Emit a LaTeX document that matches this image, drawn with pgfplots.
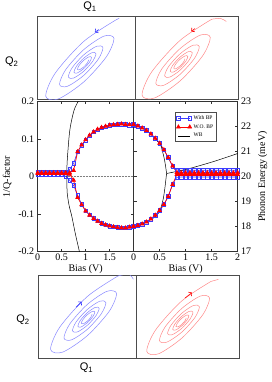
\documentclass[border=0pt]{standalone}
\usepackage{pgfplots}
\usepackage{pgfplotstable}
\pgfplotsset{compat=1.18}
\usepackage{fontspec}
\setmainfont{Liberation Serif}
\newfontfamily\qfont{Liberation Sans}
\usetikzlibrary{arrows.meta}
\definecolor{lblue}{RGB}{135,135,255}
\definecolor{lred}{RGB}{255,135,135}
\definecolor{dblue}{RGB}{50,50,255}
\definecolor{mblue}{RGB}{60,60,255}

\pgfplotstableread{
x y
31.82 43.83
0 22.54
-28.41 -9.04
-37.98 -32.21
-25.37 -34.96
0 -17.97
22.66 7.21
30.29 25.69
20.23 27.88
0 14.34
-18.07 -5.75
-24.15 -20.48
-16.14 -22.24
0 -11.43
14.41 4.59
19.26 16.33
12.87 17.73
0 9.12
-11.50 -3.66
-15.36 -13.03
-10.27 -14.14
0 -7.27
9.16 2.92
12.25 10.39
8.19 11.28
0 5.80
-7.31 -2.33
-9.77 -8.28
-6.53 -8.99
0 -4.62
5.83 1.85
7.79 6.61
5.20 7.17
0 3.69
-4.64 -1.48
-6.21 -5.27
-4.15 -5.72
0 -2.94
3.70 1.18
4.95 4.20
}\spiral

\pgfplotstableread{
x bu bl ru rl
0     0.011 0.005 0.010 0.008
0.083 0.011 0.005 0.010 0.008
0.167 0.011 0.005 0.010 0.008
0.25  0.011 0.005 0.010 0.008
0.333 0.011 0.005 0.010 0.008
0.417 0.011 0.005 0.010 0.008
0.5   0.011 0.005 0.010 0.008
0.583 0.012 0.001 0.010 0.008
0.667 0.019 -0.010 0.010 0.006
0.75  0.035 -0.024 0.016 -0.010
0.833 0.066 -0.050 0.066 -0.056
0.917 0.083 -0.074 0.084 -0.075
1.0   0.097 -0.091 0.098 -0.092
1.083 0.109 -0.102 0.110 -0.103
1.167 0.119 -0.111 0.119 -0.112
1.25  0.125 -0.118 0.126 -0.119
1.333 0.130 -0.124 0.131 -0.125
1.417 0.133 -0.129 0.134 -0.129
1.5   0.136 -0.132 0.137 -0.132
1.583 0.138 -0.134 0.138 -0.134
1.667 0.139 -0.136 0.139 -0.136
1.75  0.139 -0.137 0.140 -0.137
1.833 0.139 -0.137 0.139 -0.137
1.917 0.137 -0.135 0.138 -0.135
2.0   0.136 -0.131 0.136 -0.131
}\lefttab

\pgfplotstableread{
x bu bl ru rl
0     22.08 18.00 22.08 18.00
0.083 22.02 18.04 22.02 18.04
0.167 21.94 18.10 21.94 18.10
0.25  21.84 18.18 21.84 18.18
0.333 21.70 18.30 21.70 18.30
0.417 21.53 18.45 21.53 18.45
0.5   21.33 18.64 21.33 18.64
0.583 21.07 18.88 21.07 18.88
0.667 20.76 19.20 20.76 19.20
0.75  20.40 19.70 20.42 19.68
0.833 20.27 19.97 20.16 20.08
0.917 20.25 19.98 20.15 20.08
1.0   20.25 19.98 20.15 20.08
1.083 20.25 19.98 20.15 20.08
1.167 20.25 19.98 20.15 20.08
1.25  20.25 19.98 20.15 20.08
1.333 20.25 19.98 20.15 20.08
1.417 20.25 19.98 20.15 20.08
1.5   20.25 19.98 20.15 20.08
1.583 20.25 19.98 20.15 20.08
1.667 20.25 19.98 20.15 20.08
1.75  20.25 19.98 20.15 20.08
1.833 20.25 19.98 20.15 20.08
1.917 20.25 19.98 20.15 20.08
2.0   20.25 19.98 20.15 20.08
}\righttab

\pgfplotsset{
  phase/.style={scale only axis, anchor=north west,
    axis line style={black!70, line width=0.8pt},
    xtick=\empty, ytick=\empty},
  bsp/.style={lblue, line width=0.5pt, smooth, no marks},
  rsp/.style={lred, line width=0.5pt, smooth, no marks},
  main/.style={scale only axis, anchor=north west,
    axis line style={black!80, line width=0.6pt},
    tick align=inside, major tick length=3pt,
    tick style={black!80, line width=0.5pt},
    tick label style={font=\fontsize{10}{12}\selectfont},
    label style={font=\fontsize{10}{12}\selectfont},
    xlabel style={yshift=3pt},
    xticklabel style={yshift=1.5pt}},
  wbp/.style={mblue, line width=0.6pt, mark=square, mark size=1.8pt, mark options={solid, line width=0.5pt}},
  wop/.style={red, line width=0.7pt, mark=triangle*, mark size=2.1pt, mark options={solid}},
}

\begin{document}
\begin{tikzpicture}
\useasboundingbox (0pt,0pt) rectangle (272pt,-382pt);

% ---------- top-left phase portrait
\begin{axis}[phase, at={(37pt,-16pt)}, width=98pt, height=83pt,
  xmin=-46.7, xmax=51.3, ymin=-35, ymax=48,
  xlabel={\qfont Q\textsubscript{1}},
  every axis x label/.style={at={(rel axis cs:0.54,1)}, anchor=south, yshift=0.5pt, font=\fontsize{11}{12}\selectfont},
  ylabel={\qfont Q\textsubscript{2}},
  every axis y label/.style={at={(rel axis cs:0,0.45)}, anchor=east, xshift=-15pt, font=\fontsize{11}{12}\selectfont}]
\addplot[bsp] coordinates {(35.5,45.8) (31.82,43.83)};
\addplot[bsp] table[x=x,y=y] {\spiral};
\addplot[dblue, line width=0.6pt, -{Straight Barb[length=2.2pt,width=5pt]}] coordinates {(14.9,34.4) (11.2,31.7)};
\end{axis}

% ---------- top-right phase portrait
\begin{axis}[phase, at={(135pt,-16pt)}, width=103pt, height=83pt,
  xmin=-45, xmax=58, ymin=-36, ymax=47]
\addplot[rsp] coordinates {(46.3,41.5) (40.8,44.5) (31.82,43.83)};
\addplot[rsp] table[x=x,y=y] {\spiral};
\addplot[red, line width=0.6pt, -{Straight Barb[length=2.2pt,width=5pt]}] coordinates {(14.9,34.4) (11.2,31.7)};
\end{axis}

% ---------- main left: 1/Q
\begin{axis}[main, at={(37.7pt,-101.5pt)}, width=95.8pt, height=150pt,
  xmin=0, xmax=2, ymin=-0.2, ymax=0.2,
  xtick={0,0.5,1,1.5}, xticklabels={0,0.5,1,1.5},
  ytick={-0.2,-0.1,0,0.1,0.2}, yticklabels={-0.2,-0.1,0,0.1,0.2},
  xlabel={Bias (V)}, ylabel={1/Q-factor}]
\addplot[gray, densely dotted, line width=0.5pt] coordinates {(0,0) (2,0)};
\addplot[wbp] table[x=x,y=bu] {\lefttab};
\addplot[wbp] table[x=x,y=bl] {\lefttab};
\addplot[wop] table[x=x,y=ru] {\lefttab};
\addplot[wop] table[x=x,y=rl] {\lefttab};
\addplot[black, line width=0.5pt, smooth] coordinates {(0.90,0.22) (0.86,0.204) (0.76,0.177) (0.67,0.123) (0.617,0.043) (0.607,0) (0.617,-0.045) (0.66,-0.08) (0.71,-0.105) (0.79,-0.155) (0.88,-0.205) (0.90,-0.215)};
\addplot[black, line width=0.9pt] coordinates {(0,0.009) (0.6,0.009)};
\end{axis}

% ---------- main right: phonon energy
\begin{axis}[main, at={(133.5pt,-101.5pt)}, width=104.2pt, height=150pt,
  xmin=0, xmax=2, ymin=17, ymax=23,
  xtick={0,0.5,1,1.5,2}, xticklabels={0,0.5,1,1.5,2},
  ytick={17,18,19,20,21,22,23}, yticklabels={17,18,19,20,21,22,23},
  yticklabel pos=right,
  xlabel={Bias (V)}, ylabel={Phonon Energy (meV)},
  legend style={at={(0.40,0.93)}, anchor=north west, draw=black!70, line width=0.4pt,
    font=\fontsize{5.5}{6}\selectfont, inner sep=1.2pt, row sep=-0.3pt,
    cells={anchor=west}},
  legend image code/.code={\draw[mark repeat=2, mark phase=1] plot coordinates {(0cm,0cm) (0.2cm,0cm) (0.4cm,0cm)};}]
\addplot[wbp] table[x=x,y=bu] {\righttab};
\addlegendentry{With BP}
\addplot[wop] table[x=x,y=ru] {\righttab};
\addlegendentry{W.O. BP}
\addplot[black, line width=0.5pt, smooth] coordinates {(0,22.08) (0.25,21.84) (0.5,21.33) (0.55,21.05) (0.59,20.72) (0.62,20.35) (0.635,20.12)};
\addlegendentry{WB}
\addplot[wbp, forget plot] table[x=x,y=bl] {\righttab};
\addplot[wop, forget plot] table[x=x,y=rl] {\righttab};
\addplot[black, line width=0.5pt, smooth, forget plot] coordinates {(0.635,20.12) (0.62,19.85) (0.6,19.5) (0.57,19.1) (0.52,18.72) (0.45,18.45) (0.25,18.18) (0,18.0)};
\addplot[black, line width=0.5pt, smooth, forget plot] coordinates {(0.635,20.12) (1.0,20.28) (1.28,20.44) (1.6,20.64) (2.0,20.92)};
\end{axis}

% ---------- bottom-left phase portrait
\begin{axis}[phase, at={(38.3pt,-275pt)}, width=98.4pt, height=83.3pt,
  xmin=-50.7, xmax=51.1, ymin=-41.4, ymax=44.8,
  xlabel={\qfont Q\textsubscript{1}},
  every axis x label/.style={at={(rel axis cs:0.49,0)}, anchor=north, yshift=-1pt, font=\fontsize{11}{12}\selectfont},
  ylabel={\qfont Q\textsubscript{2}},
  every axis y label/.style={at={(rel axis cs:0,0.46)}, anchor=east, xshift=-5pt, font=\fontsize{11}{12}\selectfont}]
\addplot[bsp] coordinates {(47.62,40.38) (42.8,45.7) (31.82,43.83)};
\addplot[bsp] table[x=x,y=y] {\spiral};
\addplot[dblue, line width=0.6pt, -{Straight Barb[length=2.2pt,width=5pt]}] coordinates {(-11.5,11.5) (-5.9,17.1)};
\end{axis}

% ---------- bottom-right phase portrait
\begin{axis}[phase, at={(136.7pt,-275pt)}, width=102.6pt, height=83.3pt,
  xmin=-48.9, xmax=62.6, ymin=-39.8, ymax=50.8]
\addplot[rsp] coordinates {(39.8,46.0) (31.82,43.83)};
\addplot[rsp] table[x=x,y=y] {\spiral};
\addplot[red, line width=0.6pt, -{Straight Barb[length=2.2pt,width=5pt]}] coordinates {(3.7,25.8) (11.2,31.7)};
\end{axis}
\end{tikzpicture}
\end{document}
